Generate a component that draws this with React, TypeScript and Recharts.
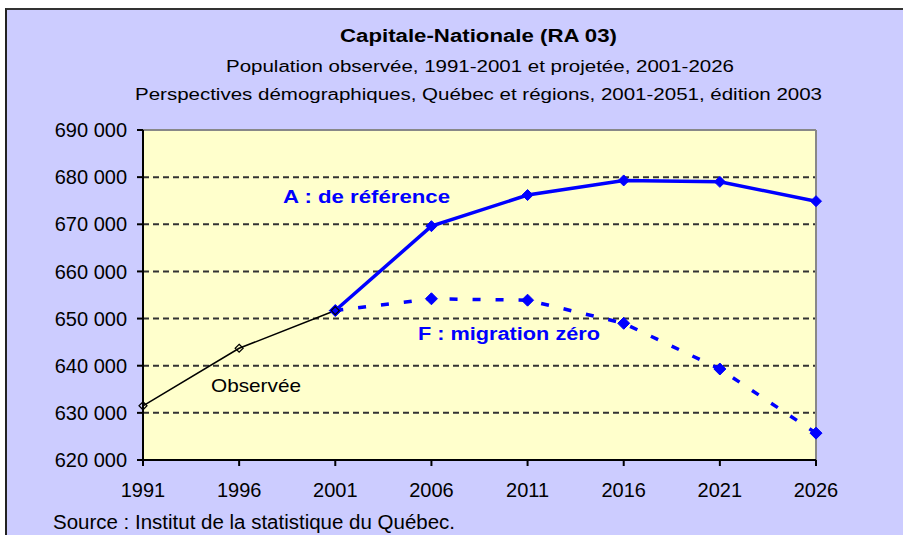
import { LineChart, Line, XAxis, YAxis, CartesianGrid, ReferenceLine } from 'recharts';

const years = [1991, 1996, 2001, 2006, 2011, 2016, 2021, 2026];
const observed = [631500, 643700, 651700, null, null, null, null, null];
const scenarioA = [null, null, 651700, 669600, 676200, 679300, 679000, 674900];
const scenarioF = [null, null, 651700, 654200, 653900, 649000, 639300, 625700];
const yTicks = [620000, 630000, 640000, 650000, 660000, 670000, 680000, 690000];
const gridValues = [630000, 640000, 650000, 660000, 670000, 680000];

const data = years.map((year, i) => ({
  year,
  observed: observed[i],
  a: scenarioA[i],
  f: scenarioF[i],
}));

const fmt = (v: number) => `${Math.floor(v / 1000)} ${String(v % 1000).padStart(3, '0')}`;

const Diamond = (props: any) => {
  const { cx, cy, r, fill, stroke, strokeWidth } = props;
  if (cx == null || cy == null || props.value == null) return null;
  return (
    <polygon
      key={`d-${cx}-${cy}`}
      points={`${cx},${cy - r} ${cx + r},${cy} ${cx},${cy + r} ${cx - r},${cy}`}
      fill={fill}
      stroke={stroke}
      strokeWidth={strokeWidth}
    />
  );
};

const font = '"Liberation Sans", Arial, sans-serif';

const App = () => {
  return (
    <div style={{ position: 'fixed', left: 0, top: 0, width: 903, height: 535, background: '#fff', overflow: 'hidden' }}>
      <div
        style={{
          position: 'absolute',
          left: 5,
          top: 8,
          width: 910,
          height: 540,
          background: '#CCCCFF',
          borderLeft: '2px solid #222',
          borderTop: '2px solid #333',
        }}
      />
      <div style={{ position: 'absolute', left: 0, top: 0 }}>
        <LineChart width={903} height={535} data={data} margin={{ top: 130, right: 87, bottom: 35, left: 43 }}>
          <CartesianGrid
            fill="#FFFFCC"
            vertical={false}
            horizontalValues={gridValues}
            stroke="#333"
            strokeWidth={2}
            strokeDasharray="6 4"
          />
          <ReferenceLine y={690000} stroke="#888" strokeWidth={2} />
          <ReferenceLine x={2026} stroke="#888" strokeWidth={2} />
          <XAxis
            dataKey="year"
            type="number"
            domain={[1991, 2026]}
            ticks={years}
            height={40}
            axisLine={{ stroke: '#000', strokeWidth: 2 }}
            tickLine={{ stroke: '#000', strokeWidth: 2 }}
            tickSize={6}
            tickMargin={17}
            tick={{ fill: '#000', fontSize: 20, fontFamily: font }}
          />
          <YAxis
            type="number"
            domain={[620000, 690000]}
            ticks={yTicks}
            width={100}
            axisLine={{ stroke: '#000', strokeWidth: 2 }}
            tickLine={{ stroke: '#000', strokeWidth: 2 }}
            tickSize={6}
            tickMargin={10}
            tickFormatter={fmt}
            tick={{ fill: '#000', fontSize: 20, fontFamily: font }}
          />
          <Line
            dataKey="f"
            stroke="#0000FF"
            strokeWidth={3.5}
            strokeDasharray="8 15"
            dot={<Diamond r={6} fill="#0000FF" stroke="#0000FF" strokeWidth={1} />}
            activeDot={false}
            isAnimationActive={false}
          />
          <Line
            dataKey="a"
            stroke="#0000FF"
            strokeWidth={3.5}
            dot={<Diamond r={5.5} fill="#0000FF" stroke="#0000FF" strokeWidth={1} />}
            activeDot={false}
            isAnimationActive={false}
          />
          <Line
            dataKey="observed"
            stroke="#000"
            strokeWidth={1.5}
            dot={<Diamond r={4} fill="none" stroke="#000" strokeWidth={1.2} />}
            activeDot={false}
            isAnimationActive={false}
          />
        </LineChart>
      </div>
      <svg width={903} height={535} style={{ position: 'absolute', left: 0, top: 0, pointerEvents: 'none' }}>
        <g fontFamily={font}>
          <text x={478.5} y={42} textAnchor="middle" fontSize={18} fontWeight="bold" textLength={277} lengthAdjust="spacingAndGlyphs">
            Capitale-Nationale (RA 03)
          </text>
          <text x={480} y={72} textAnchor="middle" fontSize={16} textLength={508} lengthAdjust="spacingAndGlyphs">
            Population observée, 1991-2001 et projetée, 2001-2026
          </text>
          <text x={478.5} y={100} textAnchor="middle" fontSize={16} textLength={687} lengthAdjust="spacingAndGlyphs">
            Perspectives démographiques, Québec et régions, 2001-2051, édition 2003
          </text>
          <text x={283} y={203} fontSize={18} fontWeight="bold" fill="#0000FF" textLength={167} lengthAdjust="spacingAndGlyphs">
            A : de référence
          </text>
          <text x={418} y={340} fontSize={18} fontWeight="bold" fill="#0000FF" textLength={182} lengthAdjust="spacingAndGlyphs">
            F : migration zéro
          </text>
          <text x={211} y={392} fontSize={19} fill="#000" textLength={90} lengthAdjust="spacingAndGlyphs">
            Observée
          </text>
          <text x={53} y={529} fontSize={20} fill="#000" textLength={402} lengthAdjust="spacingAndGlyphs">
            Source : Institut de la statistique du Québec.
          </text>
        </g>
      </svg>
    </div>
  );
};

export default App;
